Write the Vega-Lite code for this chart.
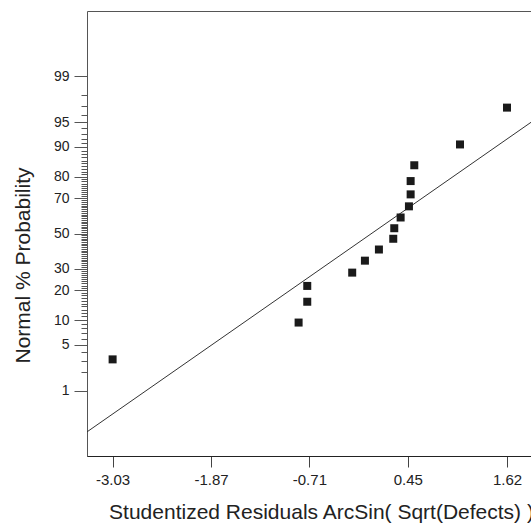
{
  "$schema": "https://vega.github.io/schema/vega-lite/v6.json",
  "autosize": "none",
  "padding": {"left": 87, "top": 11, "right": 0, "bottom": 73},
  "width": 445,
  "height": 445,
  "background": "white",
  "config": {
    "view": {"stroke": "#555555", "strokeWidth": 1},
    "font": "Liberation Sans"
  },
  "datasets": {
    "points": [
      {"residual": -3.03, "prob": 3.125, "z": -1.863},
      {"residual": -0.837, "prob": 9.375, "z": -1.318},
      {"residual": -0.735, "prob": 15.625, "z": -1.010},
      {"residual": -0.735, "prob": 21.875, "z": -0.776},
      {"residual": -0.205, "prob": 28.125, "z": -0.579},
      {"residual": -0.055, "prob": 34.375, "z": -0.402},
      {"residual": 0.110, "prob": 40.625, "z": -0.237},
      {"residual": 0.279, "prob": 46.875, "z": -0.078},
      {"residual": 0.291, "prob": 53.125, "z": 0.078},
      {"residual": 0.366, "prob": 59.375, "z": 0.237},
      {"residual": 0.464, "prob": 65.625, "z": 0.402},
      {"residual": 0.484, "prob": 71.875, "z": 0.579},
      {"residual": 0.484, "prob": 78.125, "z": 0.776},
      {"residual": 0.527, "prob": 84.375, "z": 1.010},
      {"residual": 1.066, "prob": 90.625, "z": 1.318},
      {"residual": 1.62, "prob": 96.875, "z": 1.863}
    ],
    "fit": [
      {"residual": -3.332, "z": -2.936},
      {"residual": 1.915, "z": 1.656}
    ]
  },
  "resolve": {"axis": {"y": "independent"}},
  "layer": [
    {
      "data": {"name": "fit"},
      "mark": {"type": "line", "color": "#333333", "strokeWidth": 1, "clip": true},
      "encoding": {
        "x": {"field": "residual", "type": "quantitative"},
        "y": {
          "field": "z",
          "type": "quantitative",
          "axis": {
            "orient": "left",
            "title": null,
            "labels": false,
            "grid": false,
            "domain": false,
            "ticks": true,
            "tickSize": 6,
            "tickColor": "#555555",
            "values": [-2.3263, -2.0537, -1.8808, -1.7507, -1.6449, -1.5548, -1.4758, -1.4051, -1.3408, -1.2816, -1.2265, -1.175, -1.1264, -1.0803, -1.0364, -0.9945, -0.9542, -0.9154, -0.8779, -0.8416, -0.8064, -0.7722, -0.7388, -0.7063, -0.6745, -0.6433, -0.6128, -0.5828, -0.5534, -0.5244, -0.4959, -0.4677, -0.4399, -0.4125, -0.3853, -0.3585, -0.3319, -0.3055, -0.2793, -0.2533, -0.2275, -0.2019, -0.1764, -0.151, -0.1257, -0.1004, -0.0753, -0.0502, -0.0251, 0, 0.0251, 0.0502, 0.0753, 0.1004, 0.1257, 0.151, 0.1764, 0.2019, 0.2275, 0.2533, 0.2793, 0.3055, 0.3319, 0.3585, 0.3853, 0.4125, 0.4399, 0.4677, 0.4959, 0.5244, 0.5534, 0.5828, 0.6128, 0.6433, 0.6745, 0.7063, 0.7388, 0.7722, 0.8064, 0.8416, 0.8779, 0.9154, 0.9542, 0.9945, 1.0364, 1.0803, 1.1264, 1.175, 1.2265, 1.2816, 1.3408, 1.4051, 1.4758, 1.5548, 1.6449, 1.7507, 1.8808, 2.0537, 2.3263]
          }
        }
      }
    },
    {
      "data": {"name": "points"},
      "mark": {"type": "square", "filled": true, "color": "#1a1a1a", "size": 64, "opacity": 1},
      "encoding": {
        "x": {
          "field": "residual",
          "type": "quantitative",
          "scale": {"domain": [-3.332, 1.915], "zero": false, "nice": false},
          "axis": {
            "title": "Studentized Residuals ArcSin( Sqrt(Defects) )",
            "values": [-3.03, -1.87, -0.71, 0.45, 1.62],
            "labelExpr": "datum.value < 0 ? '-' + format(-datum.value, '.2f') : format(datum.value, '.2f')",
            "grid": false,
            "domain": true,
            "domainColor": "#222222",
            "tickColor": "#444444",
            "tickSize": 11,
            "labelFontSize": 15,
            "labelColor": "#222222",
            "labelPadding": 5,
            "labelFlush": false,
            "labelOverlap": false,
            "titleFontSize": 21,
            "titleFontWeight": "normal",
            "titleColor": "#222222",
            "titlePadding": 14,
            "titleX": 234
          }
        },
        "y": {
          "field": "z",
          "type": "quantitative",
          "scale": {"domain": [-3.293, 3.293], "zero": false, "nice": false},
          "axis": {
            "orient": "left",
            "title": "Normal % Probability",
            "values": [-2.3263, -1.6449, -1.2816, -0.8416, -0.5244, 0, 0.5244, 0.8416, 1.2816, 1.6449, 2.3263],
            "labelExpr": "datum.value < -2 ? '1' : datum.value < -1.5 ? '5' : datum.value < -1 ? '10' : datum.value < -0.7 ? '20' : datum.value < -0.3 ? '30' : datum.value < 0.3 ? '50' : datum.value < 0.7 ? '70' : datum.value < 1 ? '80' : datum.value < 1.5 ? '90' : datum.value < 2 ? '95' : '99'",
            "grid": false,
            "domain": false,
            "tickColor": "#555555",
            "tickSize": 13,
            "labelFontSize": 14,
            "labelColor": "#222222",
            "labelPadding": 5,
            "labelFlush": false,
            "labelOverlap": false,
            "titleFontSize": 21,
            "titleFontWeight": "normal",
            "titleColor": "#222222",
            "titleX": -54,
            "titleY": 254
          }
        }
      }
    }
  ]
}
